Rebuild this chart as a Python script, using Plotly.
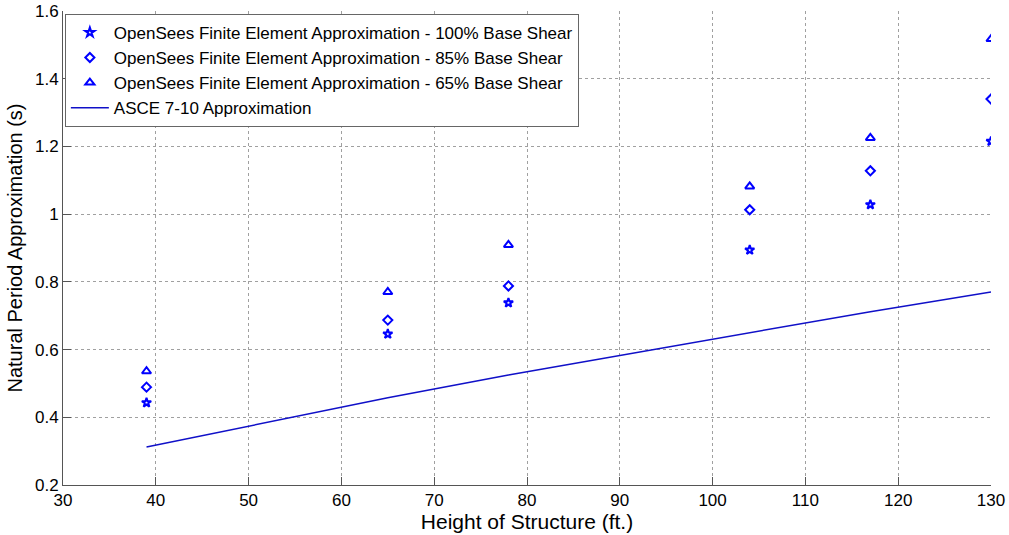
import plotly.graph_objects as go

heights = [39, 65, 78, 104, 117, 130]
period_100 = [0.443, 0.646, 0.738, 0.894, 1.028, 1.215]
period_85 = [0.489, 0.687, 0.788, 1.013, 1.128, 1.340]
period_65 = [0.536, 0.770, 0.909, 1.082, 1.225, 1.517]
asce_710 = [0.312, 0.458, 0.525, 0.651, 0.712, 0.770]

names = [
    "OpenSees Finite Element Approximation - 100% Base Shear",
    "OpenSees Finite Element Approximation - 85% Base Shear",
    "OpenSees Finite Element Approximation - 65% Base Shear",
    "ASCE 7-10 Approximation",
]

FONT = "Liberation Sans, Arial"
blue = "#0000FF"
fig = go.Figure()
for vals, sym, nm, sz in [
    (period_100, "star-open", names[0], 7),
    (period_85, "diamond-open", names[1], 7),
    (period_65, "triangle-up-open", names[2], 8),
]:
    fig.add_trace(go.Scatter(
        x=heights, y=vals, mode="markers", name=nm,
        marker=dict(symbol=sym, size=sz, color=blue, line=dict(color=blue, width=2)),
    ))
fig.add_trace(go.Scatter(x=heights, y=asce_710, mode="lines", name=names[3],
                         line=dict(color="#1010C8", width=1.5)))

axis_common = dict(
    showline=True, linecolor="#555555", linewidth=1, mirror=False,
    ticks="inside", ticklen=8, tickcolor="#555555",
    showgrid=True, gridcolor="#A0A0A0", griddash="dot", gridwidth=1,
    zeroline=False, automargin=False,
    tickfont=dict(family=FONT, size=17, color="black"),
)
fig.update_xaxes(range=[30, 130], dtick=10, tick0=30,
                 title=dict(text="Height of Structure (ft.)", standoff=4,
                            font=dict(family=FONT, size=21, color="black")),
                 **axis_common)
fig.update_yaxes(range=[0.2, 1.6], dtick=0.2, tick0=0.2,
                 title=dict(text="Natural Period Approximation (s)", standoff=6,
                            font=dict(family=FONT, size=20, color="black")),
                 **axis_common)
fig.update_layout(
    width=1009, height=535,
    margin=dict(l=63, r=18, t=11, b=50),
    plot_bgcolor="white", paper_bgcolor="white",
    legend=dict(x=0.002, y=0.994, xanchor="left", yanchor="top",
                bgcolor="white", bordercolor="#666666", borderwidth=1,
                font=dict(family=FONT, size=17, color="black"),
                itemwidth=38, tracegroupgap=0),
    showlegend=True,
)
fig.write_html("out.html", config={"displayModeBar": False},
               post_script="document.body.style.margin='0px';document.body.style.overflow='hidden';")
